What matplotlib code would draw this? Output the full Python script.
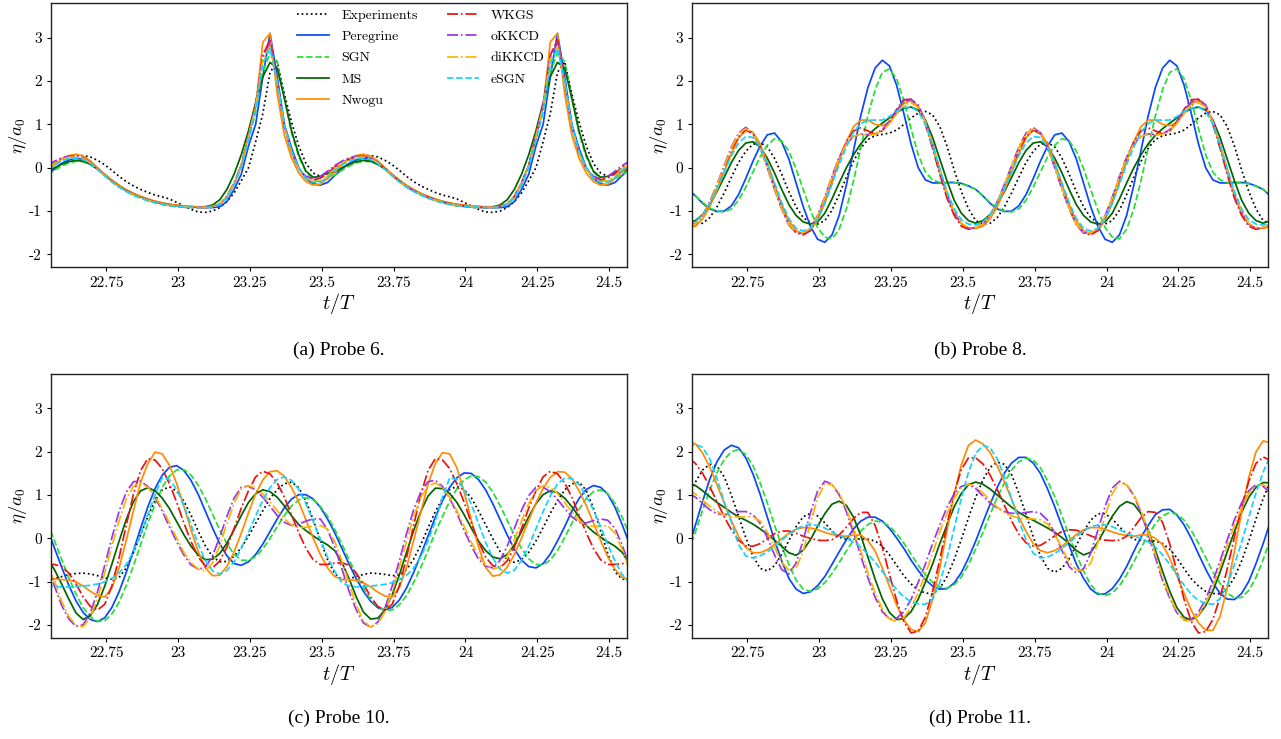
import matplotlib.pyplot as plt
import numpy as np

plt.rcParams['font.family'] = 'serif'
plt.rcParams['font.serif'] = ['cmr10', 'DejaVu Serif']
plt.rcParams['mathtext.fontset'] = 'cm'
plt.rcParams['axes.unicode_minus'] = False
plt.rcParams['axes.formatter.use_mathtext'] = True

# t/T, one sample every 0.025 T
t = 22.545 + 0.025 * np.arange(82)

models = ['Experiments', 'Peregrine', 'SGN', 'MS', 'Nwogu', 'WKGS', 'oKKCD', 'diKKCD', 'eSGN']
colors = ['black', '#0a47ff', '#22e032', '#006400', '#ff8c00', '#ee1111', '#9a35ea', '#ffb300', '#14d2ff']
styles = [':', '-', '--', '-', '-', '-.', '-.', '-.', '--']

xticks = [22.75, 23, 23.25, 23.5, 23.75, 24, 24.25, 24.5]
xlabels = ['22.75', '23', '23.25', '23.5', '23.75', '24', '24.25', '24.5']
yticks = [-2, -1, 0, 1, 2, 3]
ylabels = ['-2', '-1', '0', '1', '2', '3']

# ---- Probe 6 ----
p6_exp = [0.0, 0.1, 0.19, 0.25, 0.28, 0.28, 0.25, 0.17, 0.07, -0.06, -0.2, -0.32, -0.42, -0.5, -0.57, -0.63, -0.67, -0.72, -0.8, -0.88,
          -0.96, -1.02, -1.03, -1.0, -0.92, -0.78, -0.58, -0.3, 0.0, 0.6, 1.25, 2.2, 2.45, 1.7, 1.05, 0.5, 0.1, -0.12, -0.2, -0.12,
          0.0, 0.1, 0.19, 0.25, 0.28, 0.28, 0.25, 0.17, 0.07, -0.06, -0.2, -0.32, -0.42, -0.5, -0.57, -0.63, -0.67, -0.72, -0.8, -0.88,
          -0.96, -1.02, -1.03, -1.0, -0.92, -0.78, -0.58, -0.3, 0.0, 0.6, 1.25, 2.2, 2.45, 1.7, 1.05, 0.5, 0.1, -0.12, -0.2, -0.12,
          0.0, 0.1]
p6_peregrine = [-0.18, -0.03, 0.1, 0.18, 0.22, 0.19, 0.1, -0.03, -0.17, -0.31, -0.43, -0.53, -0.61, -0.67, -0.73, -0.78, -0.82, -0.85, -0.87, -0.89,
                -0.9, -0.91, -0.92, -0.92, -0.9, -0.78, -0.5, -0.15, 0.5, 1.0, 2.1, 3.1, 2.1, 1.0, 0.45, 0.0, -0.25, -0.37, -0.4, -0.34,
                -0.18, -0.03, 0.1, 0.18, 0.22, 0.19, 0.1, -0.03, -0.17, -0.31, -0.43, -0.53, -0.61, -0.67, -0.73, -0.78, -0.82, -0.85, -0.87, -0.89,
                -0.9, -0.91, -0.92, -0.92, -0.9, -0.78, -0.5, -0.15, 0.5, 1.0, 2.1, 3.1, 2.1, 1.0, 0.45, 0.0, -0.25, -0.37, -0.4, -0.34,
                -0.18, -0.03]
p6_sgn = [-0.17, -0.06, 0.04, 0.11, 0.15, 0.14, 0.08, -0.03, -0.16, -0.3, -0.43, -0.54, -0.63, -0.7, -0.76, -0.81, -0.85, -0.88, -0.9, -0.91,
          -0.92, -0.92, -0.92, -0.9, -0.84, -0.68, -0.38, 0.05, 0.65, 1.3, 2.2, 2.65, 2.45, 1.6, 0.8, 0.25, -0.1, -0.28, -0.32, -0.25,
          -0.17, -0.06, 0.04, 0.11, 0.15, 0.14, 0.08, -0.03, -0.16, -0.3, -0.43, -0.54, -0.63, -0.7, -0.76, -0.81, -0.85, -0.88, -0.9, -0.91,
          -0.92, -0.92, -0.92, -0.9, -0.84, -0.68, -0.38, 0.05, 0.65, 1.3, 2.2, 2.65, 2.45, 1.6, 0.8, 0.25, -0.1, -0.28, -0.32, -0.25,
          -0.17, -0.06]
p6_ms = [-0.1, 0.0, 0.08, 0.14, 0.17, 0.15, 0.08, -0.03, -0.16, -0.29, -0.41, -0.51, -0.6, -0.67, -0.73, -0.78, -0.82, -0.85, -0.87, -0.89,
         -0.9, -0.91, -0.9, -0.86, -0.74, -0.5, -0.15, 0.3, 0.85, 1.5, 2.1, 2.43, 2.3, 1.6, 0.85, 0.3, -0.08, -0.22, -0.2, -0.12,
         -0.1, 0.0, 0.08, 0.14, 0.17, 0.15, 0.08, -0.03, -0.16, -0.29, -0.41, -0.51, -0.6, -0.67, -0.73, -0.78, -0.82, -0.85, -0.87, -0.89,
         -0.9, -0.91, -0.9, -0.86, -0.74, -0.5, -0.15, 0.3, 0.85, 1.5, 2.1, 2.43, 2.3, 1.6, 0.85, 0.3, -0.08, -0.22, -0.2, -0.12,
         -0.1, 0.0]
p6_nwogu = [-0.1, 0.07, 0.2, 0.28, 0.31, 0.27, 0.16, 0.0, -0.15, -0.29, -0.41, -0.51, -0.59, -0.66, -0.72, -0.77, -0.81, -0.84, -0.86, -0.88,
            -0.89, -0.9, -0.9, -0.89, -0.84, -0.68, -0.38, 0.05, 0.75, 1.4, 2.9, 3.1, 1.7, 0.75, 0.22, -0.12, -0.32, -0.4, -0.38, -0.25,
            -0.1, 0.07, 0.2, 0.28, 0.31, 0.27, 0.16, 0.0, -0.15, -0.29, -0.41, -0.51, -0.59, -0.66, -0.72, -0.77, -0.81, -0.84, -0.86, -0.88,
            -0.89, -0.9, -0.9, -0.89, -0.84, -0.68, -0.38, 0.05, 0.75, 1.4, 2.9, 3.1, 1.7, 0.75, 0.22, -0.12, -0.32, -0.4, -0.38, -0.25,
            -0.1, 0.07]
p6_wkgs = [0.02, 0.12, 0.2, 0.25, 0.26, 0.22, 0.12, -0.02, -0.17, -0.31, -0.43, -0.53, -0.61, -0.68, -0.74, -0.79, -0.83, -0.86, -0.88, -0.9,
           -0.91, -0.92, -0.92, -0.9, -0.84, -0.66, -0.35, 0.05, 0.72, 1.45, 2.6, 2.95, 2.0, 0.95, 0.35, -0.02, -0.22, -0.28, -0.24, -0.14,
           0.02, 0.12, 0.2, 0.25, 0.26, 0.22, 0.12, -0.02, -0.17, -0.31, -0.43, -0.53, -0.61, -0.68, -0.74, -0.79, -0.83, -0.86, -0.88, -0.9,
           -0.91, -0.92, -0.92, -0.9, -0.84, -0.66, -0.35, 0.05, 0.72, 1.45, 2.6, 2.95, 2.0, 0.95, 0.35, -0.02, -0.22, -0.28, -0.24, -0.14,
           0.02, 0.12]
p6_okkcd = [0.05, 0.15, 0.23, 0.27, 0.27, 0.22, 0.12, -0.03, -0.18, -0.32, -0.44, -0.54, -0.62, -0.69, -0.75, -0.8, -0.84, -0.87, -0.89, -0.91,
            -0.92, -0.92, -0.92, -0.9, -0.84, -0.66, -0.35, 0.05, 0.72, 1.45, 2.55, 2.88, 1.95, 0.95, 0.35, -0.02, -0.2, -0.25, -0.2, -0.08,
            0.05, 0.15, 0.23, 0.27, 0.27, 0.22, 0.12, -0.03, -0.18, -0.32, -0.44, -0.54, -0.62, -0.69, -0.75, -0.8, -0.84, -0.87, -0.89, -0.91,
            -0.92, -0.92, -0.92, -0.9, -0.84, -0.66, -0.35, 0.05, 0.72, 1.45, 2.55, 2.88, 1.95, 0.95, 0.35, -0.02, -0.2, -0.25, -0.2, -0.08,
            0.05, 0.15]
p6_dikkcd = [0.0, 0.1, 0.19, 0.24, 0.25, 0.21, 0.11, -0.03, -0.18, -0.32, -0.44, -0.54, -0.62, -0.69, -0.75, -0.8, -0.84, -0.87, -0.89, -0.9,
             -0.91, -0.92, -0.92, -0.9, -0.84, -0.67, -0.36, 0.03, 0.7, 1.4, 2.5, 2.8, 1.95, 0.95, 0.35, -0.03, -0.24, -0.32, -0.3, -0.2,
             0.0, 0.1, 0.19, 0.24, 0.25, 0.21, 0.11, -0.03, -0.18, -0.32, -0.44, -0.54, -0.62, -0.69, -0.75, -0.8, -0.84, -0.87, -0.89, -0.9,
             -0.91, -0.92, -0.92, -0.9, -0.84, -0.67, -0.36, 0.03, 0.7, 1.4, 2.5, 2.8, 1.95, 0.95, 0.35, -0.03, -0.24, -0.32, -0.3, -0.2,
             0.0, 0.1]
p6_esgn = [-0.05, 0.06, 0.15, 0.21, 0.22, 0.19, 0.1, -0.04, -0.19, -0.33, -0.45, -0.55, -0.63, -0.7, -0.76, -0.8, -0.84, -0.87, -0.89, -0.9,
           -0.91, -0.92, -0.92, -0.9, -0.85, -0.7, -0.4, 0.0, 0.62, 1.3, 2.4, 2.75, 2.0, 1.0, 0.38, 0.0, -0.25, -0.34, -0.33, -0.23,
           -0.05, 0.06, 0.15, 0.21, 0.22, 0.19, 0.1, -0.04, -0.19, -0.33, -0.45, -0.55, -0.63, -0.7, -0.76, -0.8, -0.84, -0.87, -0.89, -0.9,
           -0.91, -0.92, -0.92, -0.9, -0.85, -0.7, -0.4, 0.0, 0.62, 1.3, 2.4, 2.75, 2.0, 1.0, 0.38, 0.0, -0.25, -0.34, -0.33, -0.23,
           -0.05, 0.06]

# ---- Probe 8 ----
p8_exp = [-1.22, -1.3, -1.28, -1.15, -0.9, -0.58, -0.22, 0.12, 0.38, 0.54, 0.58, 0.48, 0.22, -0.15, -0.55, -0.9, -1.15, -1.27, -1.3, -1.22,
          -0.98, -0.62, -0.22, 0.15, 0.45, 0.65, 0.74, 0.77, 0.8, 0.87, 1.0, 1.15, 1.26, 1.3, 1.22, 0.95, 0.5, -0.05, -0.55, -0.95,
          -1.22, -1.3, -1.28, -1.15, -0.9, -0.58, -0.22, 0.12, 0.38, 0.54, 0.58, 0.48, 0.22, -0.15, -0.55, -0.9, -1.15, -1.27, -1.3, -1.22,
          -0.98, -0.62, -0.22, 0.15, 0.45, 0.65, 0.74, 0.77, 0.8, 0.87, 1.0, 1.15, 1.26, 1.3, 1.22, 0.95, 0.5, -0.05, -0.55, -0.95,
          -1.22, -1.3]
p8_peregrine = [-0.5, -0.65, -0.82, -0.95, -1.01, -1.0, -0.88, -0.62, -0.25, 0.15, 0.5, 0.76, 0.8, 0.6, 0.2, -0.35, -0.9, -1.35, -1.65, -1.72,
                -1.55, -1.1, -0.4, 0.4, 1.2, 1.85, 2.3, 2.48, 2.35, 1.9, 1.25, 0.55, 0.0, -0.28, -0.35, -0.35, -0.34, -0.34, -0.36, -0.42,
                -0.5, -0.65, -0.82, -0.95, -1.01, -1.0, -0.88, -0.62, -0.25, 0.15, 0.5, 0.76, 0.8, 0.6, 0.2, -0.35, -0.9, -1.35, -1.65, -1.72,
                -1.55, -1.1, -0.4, 0.4, 1.2, 1.85, 2.3, 2.48, 2.35, 1.9, 1.25, 0.55, 0.0, -0.28, -0.35, -0.35, -0.34, -0.34, -0.36, -0.42,
                -0.5, -0.65]
p8_sgn = [-0.5, -0.65, -0.8, -0.93, -1.0, -1.02, -0.95, -0.75, -0.45, -0.1, 0.25, 0.52, 0.67, 0.62, 0.38, -0.02, -0.5, -0.98, -1.38, -1.6,
          -1.64, -1.42, -0.95, -0.3, 0.45, 1.2, 1.8, 2.2, 2.28, 2.05, 1.55, 0.9, 0.3, -0.1, -0.28, -0.34, -0.35, -0.35, -0.37, -0.43,
          -0.5, -0.65, -0.8, -0.93, -1.0, -1.02, -0.95, -0.75, -0.45, -0.1, 0.25, 0.52, 0.67, 0.62, 0.38, -0.02, -0.5, -0.98, -1.38, -1.6,
          -1.64, -1.42, -0.95, -0.3, 0.45, 1.2, 1.8, 2.2, 2.28, 2.05, 1.55, 0.9, 0.3, -0.1, -0.28, -0.34, -0.35, -0.35, -0.37, -0.43,
          -0.5, -0.65]
p8_ms = [-1.28, -1.22, -1.08, -0.85, -0.55, -0.22, 0.12, 0.4, 0.57, 0.6, 0.48, 0.22, -0.12, -0.5, -0.85, -1.1, -1.25, -1.3, -1.25, -1.05,
         -0.72, -0.35, 0.0, 0.3, 0.55, 0.75, 0.9, 1.03, 1.15, 1.27, 1.37, 1.4, 1.33, 1.1, 0.7, 0.2, -0.3, -0.75, -1.05, -1.22,
         -1.28, -1.22, -1.08, -0.85, -0.55, -0.22, 0.12, 0.4, 0.57, 0.6, 0.48, 0.22, -0.12, -0.5, -0.85, -1.1, -1.25, -1.3, -1.25, -1.05,
         -0.72, -0.35, 0.0, 0.3, 0.55, 0.75, 0.9, 1.03, 1.15, 1.27, 1.37, 1.4, 1.33, 1.1, 0.7, 0.2, -0.3, -0.75, -1.05, -1.22,
         -1.28, -1.22]
p8_nwogu = [-1.4, -1.35, -1.18, -0.9, -0.52, -0.1, 0.32, 0.68, 0.87, 0.82, 0.55, 0.12, -0.38, -0.85, -1.22, -1.45, -1.52, -1.45, -1.2, -0.82,
            -0.35, 0.15, 0.6, 0.95, 1.1, 1.1, 1.0, 0.97, 1.05, 1.25, 1.48, 1.55, 1.42, 1.05, 0.5, -0.1, -0.65, -1.05, -1.3, -1.4,
            -1.4, -1.35, -1.18, -0.9, -0.52, -0.1, 0.32, 0.68, 0.87, 0.82, 0.55, 0.12, -0.38, -0.85, -1.22, -1.45, -1.52, -1.45, -1.2, -0.82,
            -0.35, 0.15, 0.6, 0.95, 1.1, 1.1, 1.0, 0.97, 1.05, 1.25, 1.48, 1.55, 1.42, 1.05, 0.5, -0.1, -0.65, -1.05, -1.3, -1.4,
            -1.4, -1.35]
p8_wkgs = [-1.38, -1.3, -1.1, -0.8, -0.42, 0.0, 0.4, 0.72, 0.87, 0.78, 0.48, 0.05, -0.45, -0.92, -1.3, -1.5, -1.55, -1.45, -1.15, -0.72,
           -0.25, 0.22, 0.6, 0.85, 0.92, 0.85, 0.78, 0.85, 1.05, 1.35, 1.57, 1.58, 1.4, 1.0, 0.45, -0.15, -0.7, -1.1, -1.35, -1.42,
           -1.38, -1.3, -1.1, -0.8, -0.42, 0.0, 0.4, 0.72, 0.87, 0.78, 0.48, 0.05, -0.45, -0.92, -1.3, -1.5, -1.55, -1.45, -1.15, -0.72,
           -0.25, 0.22, 0.6, 0.85, 0.92, 0.85, 0.78, 0.85, 1.05, 1.35, 1.57, 1.58, 1.4, 1.0, 0.45, -0.15, -0.7, -1.1, -1.35, -1.42,
           -1.38, -1.3]
p8_okkcd = [-1.38, -1.3, -1.1, -0.78, -0.38, 0.05, 0.48, 0.8, 0.93, 0.8, 0.45, 0.0, -0.5, -0.95, -1.32, -1.5, -1.52, -1.4, -1.1, -0.68,
            -0.2, 0.25, 0.55, 0.72, 0.78, 0.76, 0.78, 0.88, 1.08, 1.33, 1.52, 1.58, 1.45, 1.08, 0.55, -0.05, -0.6, -1.02, -1.3, -1.4,
            -1.38, -1.3, -1.1, -0.78, -0.38, 0.05, 0.48, 0.8, 0.93, 0.8, 0.45, 0.0, -0.5, -0.95, -1.32, -1.5, -1.52, -1.4, -1.1, -0.68,
            -0.2, 0.25, 0.55, 0.72, 0.78, 0.76, 0.78, 0.88, 1.08, 1.33, 1.52, 1.58, 1.45, 1.08, 0.55, -0.05, -0.6, -1.02, -1.3, -1.4,
            -1.38, -1.3]
p8_dikkcd = [-1.38, -1.3, -1.1, -0.8, -0.4, 0.03, 0.45, 0.78, 0.9, 0.8, 0.47, 0.02, -0.47, -0.93, -1.3, -1.48, -1.5, -1.4, -1.12, -0.7,
             -0.22, 0.22, 0.55, 0.72, 0.78, 0.76, 0.77, 0.85, 1.02, 1.25, 1.45, 1.5, 1.4, 1.05, 0.55, -0.03, -0.58, -1.0, -1.28, -1.38,
             -1.38, -1.3, -1.1, -0.8, -0.4, 0.03, 0.45, 0.78, 0.9, 0.8, 0.47, 0.02, -0.47, -0.93, -1.3, -1.48, -1.5, -1.4, -1.12, -0.7,
             -0.22, 0.22, 0.55, 0.72, 0.78, 0.76, 0.77, 0.85, 1.02, 1.25, 1.45, 1.5, 1.4, 1.05, 0.55, -0.03, -0.58, -1.0, -1.28, -1.38,
             -1.38, -1.3]
p8_esgn = [-1.32, -1.25, -1.08, -0.82, -0.48, -0.1, 0.28, 0.57, 0.72, 0.7, 0.48, 0.1, -0.35, -0.8, -1.17, -1.4, -1.46, -1.4, -1.18, -0.82,
           -0.38, 0.08, 0.48, 0.82, 1.02, 1.1, 1.1, 1.1, 1.18, 1.3, 1.38, 1.4, 1.3, 1.0, 0.52, -0.02, -0.55, -0.95, -1.2, -1.3,
           -1.32, -1.25, -1.08, -0.82, -0.48, -0.1, 0.28, 0.57, 0.72, 0.7, 0.48, 0.1, -0.35, -0.8, -1.17, -1.4, -1.46, -1.4, -1.18, -0.82,
           -0.38, 0.08, 0.48, 0.82, 1.02, 1.1, 1.1, 1.1, 1.18, 1.3, 1.38, 1.4, 1.3, 1.0, 0.52, -0.02, -0.55, -0.95, -1.2, -1.3,
           -1.32, -1.25]

# ---- Probe 10 ----
p10_exp = [-0.95, -0.93, -0.88, -0.83, -0.81, -0.8, -0.82, -0.86, -0.91, -0.94, -0.9, -0.68, -0.33, 0.09, 0.51, 0.88, 1.12, 1.19, 1.09, 0.86,
           0.54, 0.17, -0.17, -0.42, -0.54, -0.53, -0.41, -0.21, 0.05, 0.35, 0.64, 0.92, 1.13, 1.26, 1.3, 1.17, 0.86, 0.43, -0.04, -0.49,
           -0.81, -0.95, -0.93, -0.88, -0.83, -0.8, -0.81, -0.83, -0.86, -0.84, -0.72, -0.47, -0.14, 0.25, 0.62, 0.92, 1.13, 1.2, 1.13, 0.94,
           0.64, 0.32, -0.01, -0.3, -0.49, -0.55, -0.49, -0.32, -0.06, 0.25, 0.58, 0.87, 1.12, 1.26, 1.3, 1.11, 0.7, 0.18, -0.35, -0.77,
           -0.94, -0.95]
p10_peregrine = [0.23, -0.22, -0.66, -1.08, -1.44, -1.71, -1.87, -1.92, -1.83, -1.59, -1.23, -0.78, -0.28, 0.24, 0.73, 1.15, 1.46, 1.64, 1.68, 1.57,
                 1.34, 1.02, 0.63, 0.24, -0.12, -0.4, -0.58, -0.62, -0.54, -0.37, -0.13, 0.16, 0.45, 0.71, 0.91, 1.01, 1.01, 0.91, 0.72, 0.45,
                 0.13, -0.23, -0.59, -0.93, -1.22, -1.45, -1.6, -1.65, -1.59, -1.42, -1.14, -0.78, -0.37, 0.06, 0.49, 0.87, 1.18, 1.4, 1.51, 1.5,
                 1.36, 1.12, 0.8, 0.44, 0.08, -0.25, -0.5, -0.65, -0.68, -0.58, -0.36, -0.06, 0.27, 0.63, 0.92, 1.13, 1.22, 1.18, 1.02, 0.72,
                 0.32, -0.12]
p10_sgn = [0.37, -0.05, -0.48, -0.91, -1.28, -1.6, -1.81, -1.91, -1.9, -1.74, -1.47, -1.08, -0.63, -0.14, 0.35, 0.79, 1.18, 1.44, 1.58, 1.59,
           1.46, 1.23, 0.92, 0.56, 0.2, -0.12, -0.37, -0.5, -0.51, -0.42, -0.24, 0.0, 0.27, 0.53, 0.75, 0.89, 0.94, 0.89, 0.74, 0.51,
           0.21, -0.13, -0.49, -0.83, -1.14, -1.41, -1.58, -1.66, -1.65, -1.53, -1.32, -1.01, -0.66, -0.27, 0.14, 0.51, 0.86, 1.15, 1.35, 1.44,
           1.43, 1.3, 1.07, 0.76, 0.42, 0.07, -0.23, -0.47, -0.6, -0.61, -0.5, -0.28, 0.02, 0.35, 0.67, 0.92, 1.08, 1.12, 1.03, 0.81,
           0.49, 0.09]
p10_ms = [-0.45, -0.72, -1.05, -1.4, -1.72, -1.87, -1.78, -1.52, -1.1, -0.59, -0.06, 0.44, 0.85, 1.1, 1.17, 1.1, 0.93, 0.69, 0.39, 0.09,
          -0.18, -0.38, -0.49, -0.48, -0.35, -0.11, 0.2, 0.53, 0.83, 1.03, 1.12, 1.08, 0.95, 0.75, 0.52, 0.32, 0.18, 0.06, -0.05, -0.15,
          -0.28, -0.55, -0.93, -1.35, -1.7, -1.86, -1.84, -1.65, -1.3, -0.84, -0.32, 0.19, 0.63, 0.98, 1.16, 1.15, 1.04, 0.83, 0.55, 0.24,
          -0.06, -0.28, -0.43, -0.47, -0.37, -0.15, 0.16, 0.5, 0.8, 1.01, 1.1, 1.06, 0.93, 0.73, 0.5, 0.3, 0.15, 0.03, -0.08, -0.18,
          -0.32, -0.58]
p10_nwogu = [-0.9, -0.93, -0.95, -0.96, -1.0, -1.1, -1.22, -1.32, -1.35, -1.14, -0.68, -0.04, 0.64, 1.3, 1.73, 1.99, 1.95, 1.69, 1.27, 0.75,
             0.2, -0.3, -0.68, -0.86, -0.85, -0.65, -0.31, 0.12, 0.59, 1.03, 1.35, 1.54, 1.56, 1.43, 1.17, 0.84, 0.43, 0.01, -0.37, -0.68,
             -0.88, -0.95, -0.95, -0.97, -1.02, -1.12, -1.24, -1.33, -1.35, -1.13, -0.67, -0.04, 0.62, 1.26, 1.73, 1.98, 1.95, 1.63, 1.08, 0.43,
             -0.19, -0.67, -0.87, -0.84, -0.66, -0.37, 0.01, 0.42, 0.82, 1.15, 1.41, 1.54, 1.53, 1.38, 1.1, 0.76, 0.36, -0.05, -0.43, -0.71,
             -0.9, -0.95]
p10_wkgs = [-0.6, -0.6, -0.65, -0.8, -1.05, -1.35, -1.57, -1.65, -1.52, -1.09, -0.44, 0.31, 1.03, 1.57, 1.84, 1.81, 1.61, 1.26, 0.84, 0.36,
            -0.07, -0.43, -0.63, -0.68, -0.52, -0.2, 0.23, 0.7, 1.1, 1.42, 1.55, 1.49, 1.28, 0.95, 0.54, 0.13, -0.23, -0.49, -0.6, -0.6,
            -0.57, -0.56, -0.62, -0.8, -1.05, -1.35, -1.57, -1.65, -1.52, -1.09, -0.44, 0.31, 1.03, 1.57, 1.84, 1.81, 1.61, 1.26, 0.84, 0.36,
            -0.07, -0.43, -0.63, -0.68, -0.52, -0.2, 0.23, 0.7, 1.1, 1.42, 1.55, 1.49, 1.28, 0.95, 0.54, 0.13, -0.23, -0.49, -0.6, -0.6,
            -0.58, -0.57]
p10_okkcd = [-0.61, -1.1, -1.54, -1.86, -2.03, -1.99, -1.71, -1.23, -0.62, 0.02, 0.63, 1.07, 1.31, 1.32, 1.2, 0.95, 0.63, 0.27, -0.07, -0.38,
             -0.61, -0.71, -0.67, -0.4, 0.03, 0.51, 0.93, 1.18, 1.21, 1.12, 0.95, 0.74, 0.53, 0.37, 0.3, 0.33, 0.4, 0.45, 0.45, 0.2,
             -0.2, -0.7, -1.22, -1.65, -1.95, -2.05, -1.93, -1.6, -1.1, -0.51, 0.11, 0.67, 1.08, 1.31, 1.34, 1.2, 0.93, 0.58, 0.19, -0.17,
             -0.48, -0.64, -0.68, -0.51, -0.18, 0.23, 0.65, 0.99, 1.18, 1.18, 1.08, 0.9, 0.69, 0.5, 0.37, 0.36, 0.41, 0.45, 0.42, 0.23,
             -0.15, -0.64]
p10_dikkcd = [-0.55, -0.98, -1.45, -1.8, -2.0, -2.04, -1.82, -1.38, -0.8, -0.17, 0.41, 0.91, 1.21, 1.28, 1.18, 0.98, 0.69, 0.36, 0.01, -0.32,
              -0.56, -0.71, -0.75, -0.56, -0.17, 0.34, 0.81, 1.14, 1.22, 1.16, 1.03, 0.84, 0.64, 0.45, 0.31, 0.25, 0.26, 0.28, 0.3, 0.22,
              -0.07, -0.52, -1.04, -1.54, -1.9, -2.05, -1.97, -1.69, -1.23, -0.67, -0.07, 0.51, 0.95, 1.21, 1.28, 1.18, 0.95, 0.64, 0.28, -0.08,
              -0.39, -0.62, -0.71, -0.66, -0.41, -0.04, 0.4, 0.81, 1.1, 1.22, 1.18, 1.04, 0.83, 0.61, 0.42, 0.3, 0.28, 0.29, 0.29, 0.12,
              -0.25, -0.72]
p10_esgn = [-1.08, -1.1, -1.12, -1.12, -1.11, -1.1, -1.08, -1.05, -1.0, -0.92, -0.8, -0.6, -0.3, 0.1, 0.55, 1.0, 1.41, 1.36, 1.13, 0.76,
            0.32, -0.13, -0.51, -0.75, -0.82, -0.74, -0.54, -0.23, 0.14, 0.52, 0.88, 1.17, 1.36, 1.42, 1.34, 1.13, 0.8, 0.4, -0.03, -0.43,
            -0.76, -1.02, -1.1, -1.12, -1.12, -1.1, -1.08, -1.06, -1.02, -0.95, -0.85, -0.68, -0.42, -0.05, 0.4, 0.95, 1.4, 1.36, 1.14, 0.79,
            0.35, -0.09, -0.45, -0.71, -0.8, -0.73, -0.51, -0.18, 0.22, 0.62, 0.98, 1.26, 1.39, 1.38, 1.24, 0.98, 0.66, 0.27, -0.14, -0.52,
            -0.83, -1.03]

# ---- Probe 11 ----
p11_exp = [0.91, 1.3, 1.58, 1.71, 1.67, 1.42, 1.0, 0.51, 0.02, -0.4, -0.69, -0.75, -0.63, -0.37, -0.05, 0.27, 0.5, 0.58, 0.52, 0.36,
           0.17, 0.03, -0.02, -0.02, -0.01, -0.02, -0.06, -0.18, -0.38, -0.62, -0.86, -1.05, -1.19, -1.26, -1.28, -1.15, -0.88, -0.49, -0.02, 0.48,
           0.95, 1.35, 1.64, 1.76, 1.71, 1.47, 1.04, 0.55, 0.04, -0.4, -0.69, -0.78, -0.69, -0.47, -0.16, 0.16, 0.42, 0.57, 0.57, 0.45,
           0.27, 0.1, -0.02, -0.05, -0.05, -0.06, -0.12, -0.25, -0.45, -0.7, -0.93, -1.1, -1.22, -1.27, -1.28, -1.16, -0.9, -0.52, -0.06, 0.45,
           0.92, 1.32]
p11_peregrine = [-0.23, 0.31, 0.86, 1.37, 1.77, 2.04, 2.15, 2.09, 1.86, 1.49, 1.02, 0.49, -0.04, -0.52, -0.92, -1.17, -1.27, -1.23, -1.09, -0.88,
                 -0.6, -0.31, -0.03, 0.22, 0.4, 0.49, 0.49, 0.4, 0.23, 0.01, -0.23, -0.5, -0.74, -0.95, -1.1, -1.17, -1.16, -1.03, -0.79, -0.45,
                 -0.06, 0.37, 0.79, 1.18, 1.51, 1.74, 1.87, 1.87, 1.74, 1.5, 1.14, 0.73, 0.28, -0.16, -0.59, -0.92, -1.17, -1.29, -1.28, -1.16,
                 -0.94, -0.65, -0.3, 0.03, 0.3, 0.55, 0.66, 0.67, 0.54, 0.31, 0.0, -0.36, -0.71, -1.02, -1.27, -1.4, -1.41, -1.27, -0.99, -0.58,
                 -0.12, 0.39]
p11_sgn = [-0.3, 0.15, 0.65, 1.12, 1.52, 1.82, 2.0, 2.05, 1.94, 1.68, 1.28, 0.82, 0.31, -0.17, -0.6, -0.96, -1.17, -1.22, -1.16, -1.02,
           -0.81, -0.56, -0.29, -0.04, 0.17, 0.32, 0.4, 0.38, 0.28, 0.11, -0.11, -0.36, -0.62, -0.84, -1.01, -1.12, -1.15, -1.07, -0.89, -0.6,
           -0.24, 0.14, 0.55, 0.95, 1.28, 1.58, 1.77, 1.85, 1.81, 1.63, 1.33, 0.96, 0.52, 0.06, -0.37, -0.75, -1.07, -1.26, -1.32, -1.26,
           -1.09, -0.84, -0.54, -0.22, 0.08, 0.34, 0.52, 0.6, 0.56, 0.42, 0.18, -0.11, -0.44, -0.77, -1.04, -1.26, -1.37, -1.36, -1.2, -0.9,
           -0.49, -0.01]
p11_ms = [1.28, 1.22, 1.1, 0.96, 0.83, 0.72, 0.6, 0.5, 0.42, 0.33, 0.22, 0.1, -0.04, -0.18, -0.33, -0.39, -0.27, -0.03, 0.28, 0.57,
          0.79, 0.86, 0.76, 0.49, 0.07, -0.43, -0.94, -1.39, -1.71, -1.87, -1.85, -1.69, -1.4, -1.01, -0.59, -0.12, 0.31, 0.73, 1.04, 1.24,
          1.3, 1.25, 1.14, 1.0, 0.86, 0.72, 0.6, 0.5, 0.42, 0.33, 0.24, 0.14, 0.02, -0.12, -0.28, -0.38, -0.32, -0.08, 0.22, 0.51,
          0.74, 0.85, 0.79, 0.57, 0.19, -0.27, -0.76, -1.22, -1.6, -1.82, -1.88, -1.78, -1.55, -1.21, -0.78, -0.31, 0.16, 0.6, 0.95, 1.18,
          1.29, 1.28]
p11_nwogu = [2.25, 2.18, 1.97, 1.64, 1.24, 0.82, 0.41, 0.05, -0.21, -0.33, -0.33, -0.26, -0.14, -0.01, 0.12, 0.21, 0.25, 0.24, 0.2, 0.14,
             0.09, 0.06, 0.05, 0.08, 0.08, -0.05, -0.29, -0.68, -1.11, -1.54, -1.88, -2.1, -2.15, -1.94, -1.41, -0.68, 0.18, 1.02, 1.7, 2.15,
             2.27, 2.18, 1.98, 1.67, 1.3, 0.9, 0.5, 0.16, -0.12, -0.28, -0.33, -0.28, -0.18, -0.05, 0.09, 0.2, 0.25, 0.25, 0.21, 0.15,
             0.1, 0.07, 0.05, 0.08, 0.09, 0.0, -0.14, -0.46, -0.86, -1.27, -1.66, -1.95, -2.12, -2.12, -1.8, -1.14, -0.3, 0.61, 1.41, 2.0,
             2.25, 2.2]
p11_wkgs = [1.86, 1.73, 1.5, 1.19, 0.85, 0.5, 0.2, -0.04, -0.17, -0.18, -0.12, -0.01, 0.11, 0.17, 0.17, 0.12, 0.05, 0.0, -0.04, -0.05,
            -0.03, 0.08, 0.26, 0.46, 0.6, 0.6, 0.3, -0.2, -0.83, -1.44, -1.92, -2.18, -2.14, -1.81, -1.22, -0.49, 0.32, 1.04, 1.59, 1.86,
            1.86, 1.72, 1.46, 1.13, 0.76, 0.4, 0.1, -0.1, -0.18, -0.16, -0.06, 0.06, 0.16, 0.2, 0.19, 0.13, 0.06, 0.0, -0.04, -0.05,
            -0.04, 0.05, 0.25, 0.48, 0.62, 0.6, 0.37, -0.13, -0.76, -1.41, -1.92, -2.18, -2.15, -1.87, -1.36, -0.7, 0.03, 0.74, 1.32, 1.73,
            1.88, 1.8]
p11_okkcd = [1.05, 0.95, 0.8, 0.66, 0.57, 0.55, 0.58, 0.62, 0.62, 0.55, 0.35, 0.02, -0.38, -0.72, -0.82, -0.57, -0.04, 0.59, 1.09, 1.32,
             1.25, 1.01, 0.62, 0.13, -0.4, -0.91, -1.36, -1.69, -1.86, -1.84, -1.69, -1.41, -1.01, -0.59, -0.12, 0.31, 0.72, 1.03, 1.2, 1.25,
             1.15, 0.98, 0.82, 0.7, 0.62, 0.58, 0.58, 0.6, 0.62, 0.58, 0.42, 0.12, -0.28, -0.65, -0.8, -0.7, -0.34, 0.19, 0.74, 1.16,
             1.32, 1.24, 0.99, 0.59, 0.1, -0.44, -0.97, -1.38, -1.72, -1.88, -1.87, -1.7, -1.4, -0.99, -0.52, -0.03, 0.43, 0.82, 1.1, 1.24,
             1.2, 1.05]
p11_dikkcd = [1.15, 1.02, 0.88, 0.74, 0.62, 0.54, 0.5, 0.49, 0.5, 0.5, 0.4, 0.15, -0.2, -0.55, -0.73, -0.69, -0.29, 0.35, 0.93, 1.26,
              1.24, 1.04, 0.69, 0.23, -0.28, -0.8, -1.26, -1.62, -1.86, -1.92, -1.83, -1.6, -1.25, -0.82, -0.34, 0.15, 0.58, 0.93, 1.16, 1.25,
              1.2, 1.05, 0.88, 0.72, 0.6, 0.52, 0.47, 0.45, 0.45, 0.43, 0.33, 0.1, -0.22, -0.55, -0.72, -0.75, -0.57, -0.09, 0.52, 1.03,
              1.29, 1.24, 1.02, 0.64, 0.17, -0.36, -0.89, -1.34, -1.69, -1.89, -1.91, -1.77, -1.5, -1.11, -0.65, -0.16, 0.3, 0.71, 1.04, 1.22,
              1.24, 1.15]
p11_esgn = [2.1, 2.17, 2.1, 1.83, 1.38, 0.84, 0.37, -0.14, -0.4, -0.45, -0.4, -0.31, -0.19, -0.04, 0.1, 0.22, 0.29, 0.32, 0.3, 0.24,
            0.15, 0.06, 0.0, -0.08, -0.2, -0.36, -0.55, -0.76, -0.98, -1.18, -1.35, -1.46, -1.51, -1.52, -1.4, -1.02, -0.46, 0.23, 0.93, 1.53,
            1.96, 2.15, 2.09, 1.83, 1.42, 0.91, 0.41, -0.03, -0.34, -0.45, -0.43, -0.35, -0.23, -0.1, 0.04, 0.17, 0.27, 0.31, 0.31, 0.27,
            0.2, 0.12, 0.05, 0.0, -0.08, -0.2, -0.38, -0.6, -0.84, -1.08, -1.29, -1.43, -1.5, -1.52, -1.39, -1.09, -0.6, -0.09, 0.49, 1.05,
            1.53, 1.91]

panels = [
    ('(a) Probe 6.', [p6_exp, p6_peregrine, p6_sgn, p6_ms, p6_nwogu, p6_wkgs, p6_okkcd, p6_dikkcd, p6_esgn]),
    ('(b) Probe 8.', [p8_exp, p8_peregrine, p8_sgn, p8_ms, p8_nwogu, p8_wkgs, p8_okkcd, p8_dikkcd, p8_esgn]),
    ('(c) Probe 10.', [p10_exp, p10_peregrine, p10_sgn, p10_ms, p10_nwogu, p10_wkgs, p10_okkcd, p10_dikkcd, p10_esgn]),
    ('(d) Probe 11.', [p11_exp, p11_peregrine, p11_sgn, p11_ms, p11_nwogu, p11_wkgs, p11_okkcd, p11_dikkcd, p11_esgn]),
]

fig = plt.figure(figsize=(12.81, 7.39), dpi=100)
lefts = [0.0398, 0.5402]
bottoms = [0.6387, 0.1371]
w, h = 0.4497, 0.3566
cap_y = [0.5264, 0.0284]

for n, (caption, series) in enumerate(panels):
    row, col = divmod(n, 2)
    ax = fig.add_axes([lefts[col], bottoms[row], w, h])
    for y, name, c, ls in zip(series, models, colors, styles):
        ax.plot(t, y, color=c, ls=ls, lw=1.25, label=name)
    ax.set_xlim(22.558, 24.562)
    ax.set_ylim(-2.29, 3.79)
    ax.set_xticks(xticks)
    ax.set_xticklabels(xlabels)
    ax.set_yticks(yticks)
    ax.set_yticklabels(ylabels)
    ax.tick_params(direction='out', length=3, width=0.8, labelsize=11)
    for sp in ax.spines.values():
        sp.set_linewidth(1.0)
        sp.set_color('#222222')
    ax.set_xlabel(r'$t/T$', fontsize=14.5, labelpad=1)
    ax.set_ylabel(r'$\eta/a_0$', fontsize=13.5, labelpad=0)
    if n == 0:
        ax.legend(ncol=2, loc='upper left', bbox_to_anchor=(0.418, 1.0), borderaxespad=0,
                  frameon=False, fontsize=10, handlelength=2.3, handletextpad=0.85,
                  columnspacing=2.1, labelspacing=0.62)
    fig.text(lefts[col] + w / 2, cap_y[row], caption, ha='center', va='center',
             family='Liberation Serif', fontsize=14)

fig.savefig('out.png', dpi=100)
